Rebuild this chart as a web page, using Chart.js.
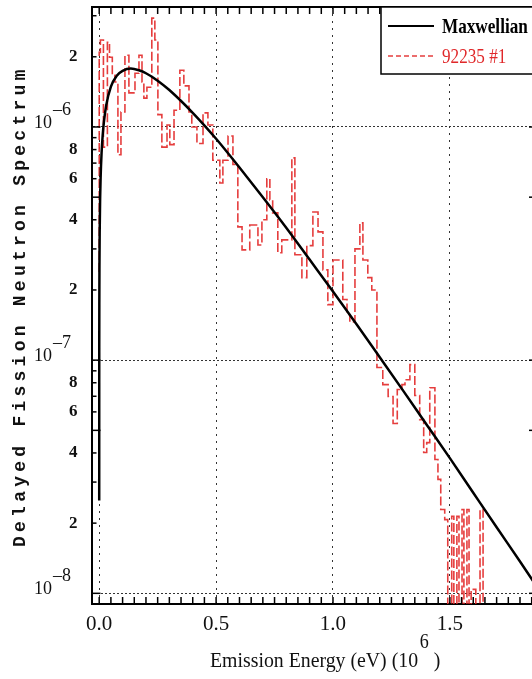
<!DOCTYPE html>
<html>
<head>
<meta charset="utf-8">
<script src="https://cdn.jsdelivr.net/npm/chart.js@4/dist/chart.umd.min.js"></script>
<style>
html, body { margin: 0; padding: 0; background: #fff; overflow: hidden; width: 532px; height: 679px; }
#wrap { position: relative; width: 548px; height: 679px; }
</style>
</head>
<body>
<div id="wrap"><canvas id="c" width="548" height="679"></canvas></div>
<script>
// Maxwellian fit (energy in 10^6 eV)
var maxwellEnergy = [0.00001, 0.0001, 0.0002, 0.0005, 0.001, 0.002, 0.004, 0.006, 0.01, 0.015,
    0.02, 0.03, 0.05, 0.075, 0.1, 0.135, 0.17, 0.2, 0.25, 0.3,
    0.4, 0.5, 0.6, 0.7, 0.8, 0.9, 1.0, 1.1, 1.2, 1.3,
    1.4, 1.5, 1.6, 1.7, 1.8, 1.9];
var maxwellValue = [2.5e-8, 8.0e-8, 1.13e-7, 1.78e-7, 2.52e-7, 3.55e-7, 4.98e-7, 6.05e-7, 7.7e-7, 9.26e-7,
    1.05e-6, 1.24e-6, 1.49e-6, 1.66e-6, 1.74e-6, 1.78e-6, 1.75e-6, 1.70e-6, 1.58e-6, 1.44e-6,
    1.15e-6, 8.9e-7, 6.7e-7, 5.0e-7, 3.7e-7, 2.7e-7, 1.97e-7, 1.43e-7, 1.03e-7, 7.4e-8,
    5.3e-8, 3.8e-8, 2.7e-8, 1.92e-8, 1.37e-8, 9.7e-9];

// 92235 #1 histogram: bin start energies and values (1e-9 = empty bin, below axis)
var binEnergy = [0.000, 0.005, 0.018, 0.035, 0.044, 0.056, 0.067, 0.080, 0.093, 0.110,
    0.127, 0.153, 0.170, 0.183, 0.191, 0.204, 0.225, 0.238, 0.251, 0.268,
    0.290, 0.302, 0.320, 0.345, 0.362, 0.384, 0.396, 0.418, 0.444, 0.465,
    0.486, 0.516, 0.529, 0.551, 0.572, 0.593, 0.611, 0.644, 0.679, 0.696,
    0.717, 0.730, 0.742, 0.764, 0.781, 0.824, 0.837, 0.867, 0.888, 0.914,
    0.936, 0.957, 0.978, 1.000, 1.042, 1.060, 1.072, 1.094, 1.115, 1.128,
    1.149, 1.166, 1.188, 1.213, 1.236, 1.257, 1.275, 1.295, 1.308, 1.329,
    1.350, 1.371, 1.388, 1.401, 1.414, 1.436, 1.449, 1.461, 1.478, 1.491,
    1.508, 1.517, 1.530, 1.539, 1.552, 1.560, 1.573, 1.582, 1.591, 1.611,
    1.629, 1.642, 1.659, 1.670];
var binValue = [2.39e-7, 2.09e-6, 2.36e-6, 8.2e-7, 2.31e-6, 1.99e-6, 1.67e-6, 1.56e-6, 7.6e-7, 1.16e-6,
    2.03e-6, 1.40e-6, 1.70e-6, 2.03e-6, 1.56e-6, 1.33e-6, 1.48e-6, 2.93e-6, 2.36e-6, 1.13e-6,
    8.2e-7, 1.02e-6, 8.4e-7, 1.18e-6, 1.75e-6, 1.50e-6, 1.16e-6, 1.00e-6, 8.5e-7, 1.15e-6,
    1.02e-6, 7.2e-7, 5.75e-7, 7.2e-7, 9.15e-7, 6.9e-7, 3.73e-7, 2.97e-7, 3.80e-7, 3.12e-7,
    4.0e-7, 6.0e-7, 4.87e-7, 4.28e-7, 2.89e-7, 3.28e-7, 7.37e-7, 2.83e-7, 2.26e-7, 3.1e-7,
    4.32e-7, 3.55e-7, 2.44e-7, 1.73e-7, 2.69e-7, 1.82e-7, 1.57e-7, 1.46e-7, 3.0e-7, 3.88e-7,
    2.69e-7, 2.26e-7, 2.0e-7, 9.3e-8, 7.85e-8, 6.98e-8, 5.35e-8, 7.48e-8, 7.85e-8, 8.24e-8,
    9.57e-8, 7.05e-8, 5.56e-8, 4.02e-8, 4.43e-8, 7.62e-8, 3.75e-8, 3.08e-8, 2.29e-8, 2.07e-8,
    1e-9, 2.14e-8, 1e-9, 2.14e-8, 1e-9, 2.29e-8, 1e-9, 2.29e-8, 1e-9, 1.04e-8,
    1e-9, 2.29e-8, 1e-9, 1e-9];

// axis ticks
var xMajorTicks = [0.0, 0.5, 1.0, 1.5];
var xTickLabels = ['0.0', '0.5', '1.0', '1.5'];
var yDecades = [-8, -7, -6];
var yLabelMantissas = [2, 4, 6, 8];

var X_MIN = -0.033, X_MAX = 1.877;
var Y_MIN = 9.06e-9, Y_MAX = 3.27e-6;

function mantissa(v) {
    var e = Math.floor(Math.log10(v) + 1e-9);
    return Math.round(v / Math.pow(10, e));
}
function isXMajor(v) {
    return xMajorTicks.some(function (m) { return Math.abs(m - v) < 1e-6; });
}

var maxwellData = maxwellEnergy.map(function (e, i) { return {x: e, y: maxwellValue[i]}; });
var binData = binEnergy.map(function (e, i) { return {x: e, y: binValue[i]}; });

var frameAndText = {
    id: 'frameAndText',
    afterDraw: function (chart) {
        var ctx = chart.ctx, a = chart.chartArea;
        var xs = chart.scales.x, ys = chart.scales.y;
        ctx.save();
        function seg(x1, y1, x2, y2) { ctx.beginPath(); ctx.moveTo(x1, y1); ctx.lineTo(x2, y2); ctx.stroke(); }

        // top & right frame
        ctx.strokeStyle = '#000';
        ctx.lineWidth = 2;
        seg(a.left, a.top, a.right, a.top);
        seg(a.right, a.top, a.right, a.bottom);

        // inward ticks on all four sides
        ctx.lineWidth = 1.5;
        xs.ticks.forEach(function (t) {
            var px = xs.getPixelForValue(t.value);
            seg(px, a.bottom, px, a.bottom - 7);
            seg(px, a.top, px, a.top + 7);
        });
        ys.ticks.forEach(function (t) {
            var py = ys.getPixelForValue(t.value);
            var m = mantissa(t.value);
            var len = (m === 1 || m === 5) ? 9 : 5;
            seg(a.left, py, a.left + len, py);
            seg(a.right, py, a.right - len, py);
        });

        // decade labels 10^n
        ctx.fillStyle = '#111';
        ctx.textBaseline = 'alphabetic';
        yDecades.forEach(function (n) {
            var py = ys.getPixelForValue(Math.pow(10, n));
            ctx.font = '18px "Liberation Serif"';
            ctx.textAlign = 'right';
            ctx.fillText('10', 52, py + 1);
            ctx.textAlign = 'left';
            ctx.fillText('\u2013' + Math.abs(n), 53, py - 12);
        });

        // y axis title (monospace, spaced letters)
        var yTitle = 'Delayed Fission Neutron Spectrum';
        ctx.save();
        ctx.font = 'bold 18px "Liberation Mono"';
        ctx.textAlign = 'left';
        ctx.translate(25, 547);
        ctx.rotate(-Math.PI / 2);
        for (var i = 0; i < yTitle.length; i++) {
            ctx.fillText(yTitle[i], i * 15.05, 0);
        }
        ctx.restore();

        // x axis title with superscript
        ctx.save();
        ctx.translate(210, 667);
        ctx.scale(0.9, 1);
        ctx.textAlign = 'left';
        ctx.font = '22px "Liberation Serif"';
        var main = 'Emission Energy (eV) (10';
        ctx.fillText(main, 0, 0);
        var w = ctx.measureText(main).width;
        ctx.font = '20px "Liberation Serif"';
        ctx.fillText('6', w + 2, -19);
        var w2 = ctx.measureText('6').width;
        ctx.font = '22px "Liberation Serif"';
        ctx.fillText(' )', w + 2 + w2, 0);
        ctx.restore();

        // legend box in the top right corner
        var lx = 381, ly = a.top, lw = a.right - 381, lh = 67;
        ctx.fillStyle = '#fff';
        ctx.fillRect(lx, ly, lw, lh);
        ctx.strokeStyle = '#000';
        ctx.lineWidth = 1.5;
        ctx.strokeRect(lx, ly, lw, lh);
        var rows = [26, 56];
        chart.data.datasets.forEach(function (ds, k) {
            var yy = rows[k];
            ctx.save();
            ctx.strokeStyle = ds.borderColor;
            ctx.lineWidth = k === 0 ? 2 : 1.3;
            ctx.setLineDash(k === 0 ? [] : [5, 3]);
            seg(388, yy, 434, yy);
            ctx.restore();
            ctx.save();
            ctx.translate(442, yy);
            ctx.scale(0.78, 1);
            ctx.fillStyle = k === 0 ? '#000' : '#e0282a';
            ctx.font = (k === 0 ? 'bold ' : '') + '22px "Liberation Serif"';
            ctx.textAlign = 'left';
            ctx.textBaseline = 'middle';
            ctx.fillText(ds.label, 0, 1);
            ctx.restore();
        });
        ctx.restore();
    }
};

var chart = new Chart(document.getElementById('c'), {
    type: 'line',
    data: {
        datasets: [{
            label: 'Maxwellian',
            data: maxwellData,
            borderColor: '#000',
            borderWidth: 2.5,
            pointRadius: 0,
            cubicInterpolationMode: 'monotone',
            fill: false
        }, {
            label: '92235 #1',
            data: binData,
            borderColor: 'rgba(226,40,40,0.9)',
            borderWidth: 1.6,
            borderDash: [9, 3],
            pointRadius: 0,
            stepped: 'after',
            fill: false
        }]
    },
    plugins: [frameAndText],
    options: {
        responsive: false,
        devicePixelRatio: 1,
        animation: false,
        layout: { autoPadding: false, padding: { left: 0, right: 10, top: 7, bottom: 0 } },
        plugins: { legend: { display: false }, tooltip: { enabled: false } },
        scales: {
            x: {
                type: 'linear',
                min: X_MIN,
                max: X_MAX,
                afterBuildTicks: function (s) {
                    var t = [];
                    for (var k = 0; k <= 37; k++) t.push({ value: k * 0.05 });
                    s.ticks = t;
                },
                afterFit: function (s) {
                    s.height = 75;
                    s.paddingLeft = 0; s.paddingRight = 0;
                },
                ticks: {
                    autoSkip: false,
                    maxRotation: 0,
                    padding: 8,
                    color: '#111',
                    font: { family: 'Liberation Serif', size: 21 },
                    callback: function (v) {
                        for (var i = 0; i < xMajorTicks.length; i++) {
                            if (Math.abs(xMajorTicks[i] - v) < 1e-6) return xTickLabels[i];
                        }
                        return '';
                    }
                },
                grid: {
                    drawTicks: false,
                    lineWidth: 1,
                    color: function (c) { return c.tick && isXMajor(c.tick.value) ? '#333' : 'rgba(0,0,0,0)'; }
                },
                border: { display: true, color: '#000', width: 2, dash: [2, 5] }
            },
            y: {
                type: 'logarithmic',
                min: Y_MIN,
                max: Y_MAX,
                afterBuildTicks: function (s) {
                    var t = [];
                    for (var n = -9; n <= -6; n++) {
                        for (var m = 1; m <= 9; m++) {
                            var v = m * Math.pow(10, n);
                            if (v >= Y_MIN && v <= Y_MAX) t.push({ value: v });
                        }
                    }
                    s.ticks = t;
                },
                afterFit: function (s) {
                    s.width = 91.5;
                    s.paddingTop = 0; s.paddingBottom = 0;
                },
                ticks: {
                    autoSkip: false,
                    padding: 14,
                    color: '#111',
                    font: { family: 'Liberation Serif', size: 17, weight: 'bold' },
                    callback: function (v) {
                        var m = mantissa(v);
                        return yLabelMantissas.indexOf(m) >= 0 ? String(m) : '';
                    }
                },
                grid: {
                    drawTicks: false,
                    lineWidth: 1,
                    color: function (c) { return c.tick && mantissa(c.tick.value) === 1 ? '#333' : 'rgba(0,0,0,0)'; }
                },
                border: { display: true, color: '#000', width: 2, dash: [2, 2] }
            }
        }
    }
});
</script>
</body>
</html>
